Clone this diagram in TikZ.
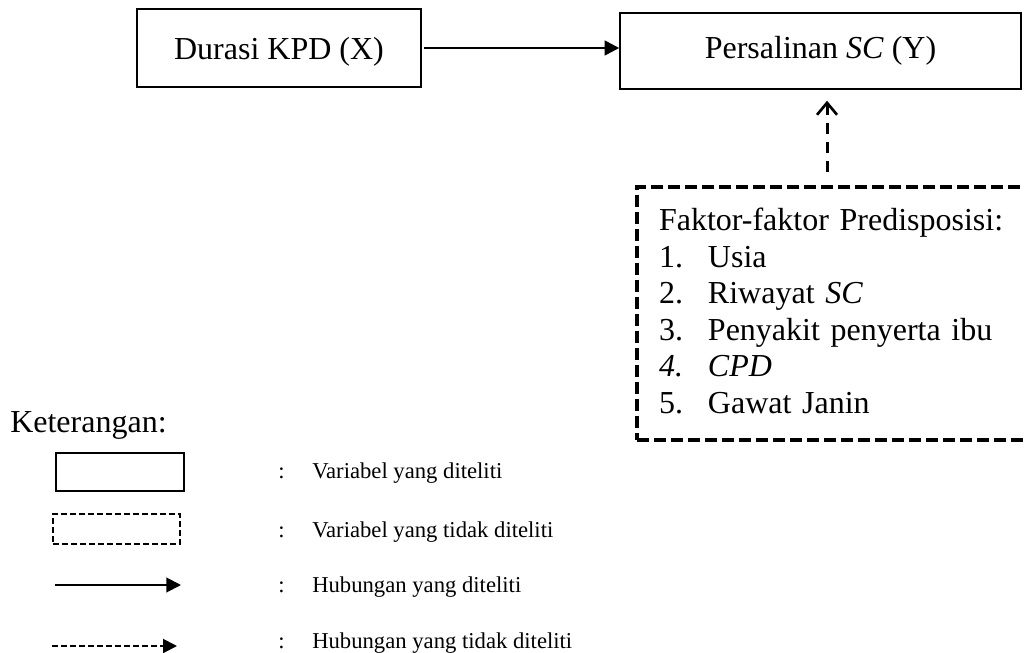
\documentclass[tikz,border=0pt]{standalone}
\usepackage{fontspec}
\setmainfont{Liberation Serif}
\usetikzlibrary{arrows.meta}

\newcommand{\listrow}[2]{\makebox[36.75pt][l]{#1}#2}

\begin{document}
\begin{tikzpicture}[x=0.75pt, y=-0.75pt,
        varbox/.style={draw, line width=1.1pt, inner sep=0pt, font=\fontsize{24}{27.4}\selectfont},
        dashbox/.style={draw, line width=3pt, dash pattern=on 9pt off 3.75pt, align=left,
            font=\fontsize{24}{27.4}\selectfont},
        bigtext/.style={inner sep=0pt, anchor=base west, font=\fontsize{24}{27.4}\selectfont},
        legtext/.style={inner sep=0pt, anchor=base west, font=\fontsize{17}{20}\selectfont},
        solidarrow/.style={line width=1.9pt, -{Triangle[length=11pt, width=11pt]}},
        dasharrow/.style={line width=2.2pt, dash pattern=on 8.25pt off 6pt,
            -{Straight Barb[length=9pt, width=15pt, line width=2pt]}}]
        \useasboundingbox (0,0) rectangle (1025,653);

        % Define nodes
        \node[varbox, text depth=0pt, minimum width=213pt, minimum height=58.5pt] (durasi) at (279,48) {Durasi KPD (X)};
        \node[varbox, minimum width=300.75pt, minimum height=57pt] (persalinan) at (820.5,51) {Persalinan \textit{SC} (Y)};
        \node[dashbox, anchor=north west, text width=270.75pt, inner xsep=16.5pt, inner ysep=15.8pt] (faktor) at (635,185)
            {Faktor-faktor Predisposisi:\\
             \listrow{1.}{Usia}\\
             \listrow{2.}{Riwayat \textit{SC}}\\
             \listrow{3.}{Penyakit penyerta ibu}\\
             \listrow{\textit{4.}}{\textit{CPD}}\\
             \listrow{5.}{Gawat Janin}\rule[-4.5pt]{0pt}{1pt}};
        \coordinate (pin) at ([xshift=4.9pt]persalinan.south);

        % Draw edges
        \draw[solidarrow, shorten <=2pt] (durasi.east) -- (durasi.east -| persalinan.west);
        \draw[dasharrow, shorten <=9.75pt, shorten >=8.25pt] (faktor.north -| pin) -- (pin);

        % Legend
        \node[bigtext] (ket) at (10,432) {Keterangan:};
        \node[draw, line width=1.7pt, minimum width=96pt, minimum height=28.5pt] (legsolid) at (120,472) {};
        \node[draw, line width=1.5pt, dash pattern=on 4.5pt off 2.25pt, minimum width=95.25pt, minimum height=22.5pt] (legdash) at (116.5,529) {};
        \coordinate (ls1) at (55,585);
        \coordinate (ls2) at (181,585);
        \coordinate (ld1) at (52,646);
        \coordinate (ld2) at (177,646);
        \draw[line width=1.5pt, -{Triangle[length=11pt, width=11pt]}] (ls1) -- (ls2);
        \draw[line width=1.5pt, dash pattern=on 4.5pt off 2.25pt, -{Triangle[length=10.5pt, width=10.5pt]}] (ld1) -- (ld2);

        \node[legtext] (col1) at (278,478) {:};
        \node[legtext] (col2) at (278,537) {:};
        \node[legtext] (col3) at (278,592) {:};
        \node[legtext] (col4) at (278,648) {:};
        \node[legtext] (lab1) at (312,478) {Variabel yang diteliti};
        \node[legtext] (lab2) at (312,537) {Variabel yang tidak diteliti};
        \node[legtext] (lab3) at (312,592) {Hubungan yang diteliti};
        \node[legtext] (lab4) at (312,648) {Hubungan yang tidak diteliti};
    \end{tikzpicture}
\end{document}
